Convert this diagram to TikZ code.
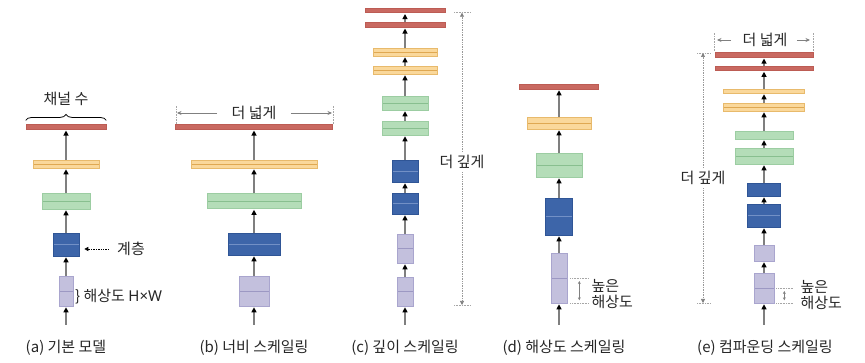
\documentclass[tikz,border=0pt]{standalone}
\usepackage{fontspec}
\setmainfont{Noto Sans CJK KR}
\newfontfamily\latinfont{Noto Sans}
\usetikzlibrary{arrows.meta, decorations.pathreplacing}

\definecolor{redF}{HTML}{C96961}
\definecolor{redD}{HTML}{BC5C54}
\definecolor{yelF}{HTML}{FAD89B}
\definecolor{yelD}{HTML}{E8BA6C}
\definecolor{yelM}{HTML}{DFA852}
\definecolor{grnF}{HTML}{B4DDB8}
\definecolor{grnD}{HTML}{9CCDA2}
\definecolor{grnM}{HTML}{88BF8F}
\definecolor{bluF}{HTML}{3D65A9}
\definecolor{bluD}{HTML}{2F5596}
\definecolor{bluM}{HTML}{7290C6}
\definecolor{purF}{HTML}{C3C0DD}
\definecolor{purD}{HTML}{A9A5CE}
\definecolor{purM}{HTML}{9C98C3}
\definecolor{flowC}{HTML}{7F7F7F}
\definecolor{txt}{HTML}{262626}

\begin{document}
\begin{tikzpicture}[
						x=1pt, y=-1pt,
						font=\fontsize{15}{16}\selectfont, text=txt,
						lay/.style = {draw, rectangle, inner sep=0pt, line width=0.6pt},
						sz/.style 2 args = {minimum width=#1pt, minimum height=#2pt},
						mid/.style = {path picture={\draw[#1, line width=0.6pt] (path picture bounding box.west) -- (path picture bounding box.east);}},
						slim/.style = {path picture={}},
						rl/.style = {lay, fill=redF, draw=redD},
						yl/.style = {lay, fill=yelF, draw=yelD, mid=yelM},
						gl/.style = {lay, fill=grnF, draw=grnD, mid=grnM},
						bl/.style = {lay, fill=bluF, draw=bluD, mid=bluM},
						pl/.style = {lay, fill=purF, draw=purD, mid=purM},
						flow/.style = {draw=flowC, line width=1.1pt, shorten >=1pt, -{Triangle[length=5pt, width=5pt, color=black]}},
						guide/.style = {draw=gray!70, densely dotted, line width=0.6pt},
						deep/.style = {draw=gray!80, densely dotted, line width=0.7pt, -{Triangle[length=4pt, width=4pt, color=gray]}},
						wide/.style = {draw=gray, line width=0.7pt, -{Stealth[length=4.5pt, width=4pt]}},
						dbl/.style = {draw=gray, line width=0.6pt, shorten <=3pt, shorten >=3pt, {Stealth[length=3pt, width=3pt]}-{Stealth[length=3pt, width=3pt]}}
					]
\useasboundingbox (0,0) rectangle (865,363);

% (a) base model
\coordinate (a0) at (66,325);
\node[pl, sz={14}{30}] (a1) at (66,291) {};
\node[bl, sz={26}{23}] (a2) at (66,244.5) {};
\node[gl, sz={48}{16}] (a3) at (66,201) {};
\node[yl, sz={66}{8}] (a4) at (66,164) {};
\node[rl, sz={80}{4.5}] (a5) at (66,127) {};
\node (chan) at (66,99) {채널 수};
\node (layer) at (131,249) {계층};
\node[anchor=west, inner sep=0pt] (hw) at (75,297) {\} 해상도 {\latinfont H×W}};
\node (capa) at (66,348) {(a) 기본 모델};

% (b) width
\coordinate (b0) at (254,325);
\node[pl, sz={30}{30}] (b1) at (254,291) {};
\node[bl, sz={52}{22}] (b2) at (254,244) {};
\node[gl, sz={94}{15}] (b3) at (254,201) {};
\node[yl, sz={126}{8}] (b4) at (254,164) {};
\node[rl, sz={157}{4.5}] (b5) at (254,127) {};
\node (wideb) at (254,113) {더 넓게};
\coordinate (bL) at (176,113);
\coordinate (bR) at (333,113);
\node (capb) at (254,348) {(b) 너비 스케일링};

% (c) depth
\coordinate (c0) at (405,325);
\node[pl, sz={16}{29}] (c1) at (405,291.5) {};
\node[pl, sz={16}{29}] (c2) at (405,248.5) {};
\node[bl, sz={26}{21}] (c3) at (405,203.5) {};
\node[bl, sz={26}{22}] (c4) at (405,171) {};
\node[gl, sz={46}{14}] (c5) at (405,128) {};
\node[gl, sz={46}{14}] (c6) at (405,103) {};
\node[yl, sz={64}{8}] (c7) at (405,70) {};
\node[yl, sz={64}{8}] (c8) at (405,52) {};
\node[rl, sz={80}{4.5}] (c9) at (405,25) {};
\node[rl, sz={80}{4.5}] (c10) at (405,10.5) {};
\node (deepc) at (462,162) {더 깊게};
\coordinate (cT) at (462,12.7);
\coordinate (cB) at (462,305);
\node (capc) at (405,348) {(c) 깊이 스케일링};

% (d) resolution
\coordinate (d0) at (559,325);
\node[pl, sz={16}{50}] (d1) at (559,278) {};
\node[bl, sz={27}{37}] (d2) at (559,216.5) {};
\node[gl, sz={46}{24}] (d3) at (559,165) {};
\node[yl, sz={64}{12}] (d4) at (559,123) {};
\node[rl, sz={79}{5}] (d5) at (559,86.5) {};
\coordinate (dr1) at ([xshift=12pt]d1.east);
\coordinate (dr2) at ([xshift=12pt]d1.south east);
\node[anchor=west, align=left] (hrd) at (588,294) {높은\\해상도};
\node (capd) at (564,348) {(d) 해상도 스케일링};

% (e) compound
\coordinate (e0) at (764,325);
\node[pl, sz={20}{30}] (e1) at (764,288) {};
\node[pl, slim, sz={20}{16}] (e2) at (764,253) {};
\node[bl, sz={33}{23}] (e3) at (764,215.5) {};
\node[bl, slim, sz={33}{13}] (e4) at (764,189.5) {};
\node[gl, sz={58}{16}] (e5) at (764,156) {};
\node[gl, slim, sz={58}{8}] (e6) at (764,135) {};
\node[yl, sz={81}{8}] (e7) at (764,107) {};
\node[yl, slim, sz={81}{4}] (e8) at (764,91) {};
\node[rl, sz={98}{4}] (e9) at (764,68.5) {};
\node[rl, sz={98}{4.5}] (e10) at (764,55) {};
\node (widee) at (765,40) {더 넓게};
\coordinate (eL) at (714,40);
\coordinate (eR) at (813,40);
\node (deepe) at (703,178) {더 깊게};
\coordinate (eT) at (703,53);
\coordinate (eB) at (703,303);
\coordinate (er1) at ([xshift=10pt]e1.east);
\coordinate (er2) at ([xshift=10pt]e1.south east);
\node[anchor=west, align=left] (hre) at (797,295) {높은\\해상도};
\node (cape) at (765,348) {(e) 컴파운딩 스케일링};

\draw[flow] (a0) -- (a1);
\draw[flow] (a1) -- (a2);
\draw[flow] (a2) -- (a3);
\draw[flow] (a3) -- (a4);
\draw[flow] (a4) -- (a5);
\draw[decorate, decoration={brace, amplitude=6pt}, line width=0.8pt] ([yshift=4pt]a5.north west) -- ([yshift=4pt]a5.north east);
\draw[densely dotted, line width=0.7pt, shorten <=5pt, shorten >=5pt, -{Triangle[length=4pt, width=4pt]}] (layer.west) -- (a2.east |- layer.west);

\draw[flow] (b0) -- (b1);
\draw[flow] (b1) -- (b2);
\draw[flow] (b2) -- (b3);
\draw[flow] (b3) -- (b4);
\draw[flow] (b4) -- (b5);
\draw[guide] (176,124) -- (176,106);
\draw[guide] (333,124) -- (333,106);
\draw[wide, shorten <=11pt, shorten >=1pt] (wideb) -- (bL);
\draw[wide, shorten <=11pt, shorten >=1pt] (wideb) -- (bR);

\draw[flow] (c0) -- (c1);
\draw[flow] (c1) -- (c2);
\draw[flow] (c2) -- (c3);
\draw[flow] (c3) -- (c4);
\draw[flow] (c4) -- (c5);
\draw[flow] (c5) -- (c6);
\draw[flow] (c6) -- (c7);
\draw[flow] (c7) -- (c8);
\draw[flow] (c8) -- (c9);
\draw[flow] (c9) -- (c10);
\draw[deep] (deepc) -- (cT);
\draw[deep] (deepc) -- (cB);
\draw[guide] ([xshift=-8pt]cT) -- ([xshift=9pt]cT);
\draw[guide] ([xshift=-8pt]cB) -- ([xshift=9pt]cB);

\draw[flow] (d0) -- (d1);
\draw[flow] (d1) -- (d2);
\draw[flow] (d2) -- (d3);
\draw[flow] (d3) -- (d4);
\draw[flow] (d4) -- (d5);
\draw[guide] ([xshift=3pt]d1.east) -- ([xshift=21pt]d1.east);
\draw[guide] ([xshift=3pt]d1.south east) -- ([xshift=21pt]d1.south east);
\draw[dbl] (dr1) -- (dr2);

\draw[flow] (e0) -- (e1);
\draw[flow] (e1) -- (e2);
\draw[flow] (e2) -- (e3);
\draw[flow] (e3) -- (e4);
\draw[flow] (e4) -- (e5);
\draw[flow] (e5) -- (e6);
\draw[flow] (e6) -- (e7);
\draw[flow] (e7) -- (e8);
\draw[flow] (e8) -- (e9);
\draw[flow] (e9) -- (e10);
\draw[guide] (714,51) -- (714,32);
\draw[guide] (813,51) -- (813,32);
\draw[wide, shorten <=8pt, shorten >=3pt] (widee) -- (eL);
\draw[wide, shorten <=6pt, shorten >=3pt] (widee) -- (eR);
\draw[deep] (deepe) -- (eT);
\draw[deep] (deepe) -- (eB);
\draw[guide] ([xshift=-6pt]eT) -- ([xshift=7pt]eT);
\draw[guide] ([xshift=-6pt]eB) -- ([xshift=7pt]eB);
\draw[guide] ([xshift=2pt]e1.east) -- ([xshift=19pt]e1.east);
\draw[guide] ([xshift=2pt]e1.south east) -- ([xshift=19pt]e1.south east);
\draw[dbl] (er1) -- (er2);
\end{tikzpicture}
\end{document}
